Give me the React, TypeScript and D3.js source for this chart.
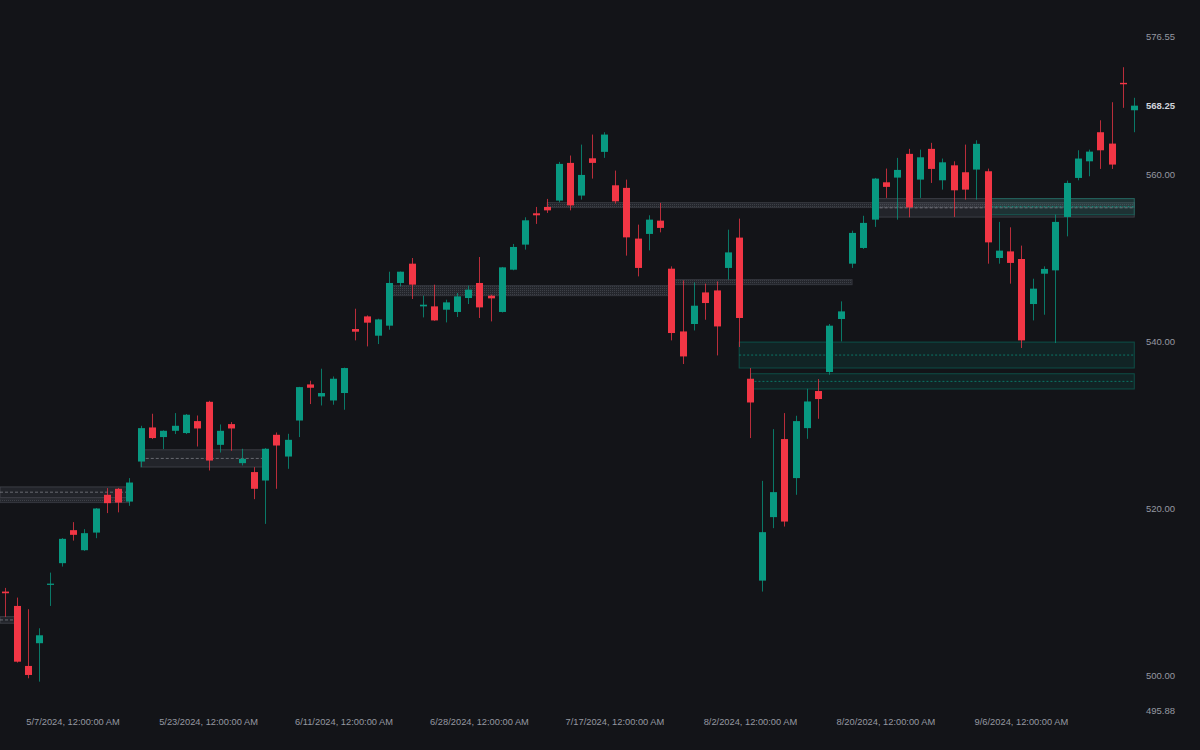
import React from "react";
import * as d3 from "d3";

const dates = [
  "2024-04-29","2024-04-30","2024-05-01","2024-05-02","2024-05-03","2024-05-06","2024-05-07","2024-05-08","2024-05-09","2024-05-10",
  "2024-05-13","2024-05-14","2024-05-15","2024-05-16","2024-05-17","2024-05-20","2024-05-21","2024-05-22","2024-05-23","2024-05-24",
  "2024-05-28","2024-05-29","2024-05-30","2024-05-31","2024-06-03","2024-06-04","2024-06-05","2024-06-06","2024-06-07","2024-06-10",
  "2024-06-11","2024-06-12","2024-06-13","2024-06-14","2024-06-17","2024-06-18","2024-06-20","2024-06-21","2024-06-24","2024-06-25",
  "2024-06-26","2024-06-27","2024-06-28","2024-07-01","2024-07-02","2024-07-03","2024-07-05","2024-07-08","2024-07-09","2024-07-10",
  "2024-07-11","2024-07-12","2024-07-15","2024-07-16","2024-07-17","2024-07-18","2024-07-19","2024-07-22","2024-07-23","2024-07-24",
  "2024-07-25","2024-07-26","2024-07-29","2024-07-30","2024-07-31","2024-08-01","2024-08-02","2024-08-05","2024-08-06","2024-08-07",
  "2024-08-08","2024-08-09","2024-08-12","2024-08-13","2024-08-14","2024-08-15","2024-08-16","2024-08-19","2024-08-20","2024-08-21",
  "2024-08-22","2024-08-23","2024-08-26","2024-08-27","2024-08-28","2024-08-29","2024-08-30","2024-09-03","2024-09-04","2024-09-05",
  "2024-09-06","2024-09-09","2024-09-10","2024-09-11","2024-09-12","2024-09-13","2024-09-16","2024-09-17","2024-09-18","2024-09-19",
  "2024-09-20",
];

const open = [
  510.1,508.38,501.2,503.92,510.9,513.5,517.45,515.05,517.16,521.68,
  522.4,520.87,525.66,529.74,528.59,529.34,529.07,530.5,532.81,527.66,
  530.14,525.47,524.4,523.39,528.86,526.26,530.57,534.89,533.45,532.97,
  533.86,541.52,543.03,540.72,541.92,547.03,549.34,544.23,544.23,543.83,
  543.56,545.23,547.03,545.51,543.56,548.62,551.62,555.37,556.13,556.89,
  561.4,557.49,561.95,562.72,558.72,558.41,552.34,552.9,554.49,548.74,
  541.23,542.12,545.9,546.14,548.83,552.46,535.57,511.41,519.01,528.35,
  523.68,529.66,534.1,536.37,542.72,549.34,551.22,554.61,559.08,559.64,
  562.48,559.4,563.08,559.32,561.11,560.28,560.6,560.4,550.02,550.81,
  549.9,544.51,548.14,548.54,554.93,559.6,561.59,565.07,563.71,570.98,
  567.7,
];
const high = [
  510.54,509.38,507.99,505.71,512.37,516.5,518.41,517.57,520.1,522.48,
  522.5,523.68,529.94,531.38,529.4,531.46,531.35,531.17,532.93,530.1,
  530.38,527.19,524.99,527.27,529.14,528.98,534.6,535.33,536.77,535.84,
  536.9,543.95,543.15,542.75,548.38,548.4,550.02,545.51,546.83,545.03,
  545.83,546.71,550.14,545.63,548.95,551.7,554.89,556.13,557.09,561.52,
  562.28,563.59,564.79,565.07,560.48,559.4,554.01,555.13,556.61,549.02,
  547.34,547.1,546.95,547.22,553.41,554.73,536.85,523.35,529.54,531.46,
  531.14,534.37,535.53,542.12,544.83,553.29,555.07,559.6,560.72,562.0,
  563.08,562.99,563.8,561.92,561.59,563.59,564.11,560.72,554.34,553.69,
  551.5,547.54,549.02,555.21,559.28,562.91,562.99,566.5,568.66,572.85,
  569.19,
];
const low = [
  507.07,501.6,499.72,499.32,508.38,513.09,516.2,514.97,516.49,519.49,
  519.58,520.36,524.99,528.35,527.15,528.95,528.95,527.46,524.59,526.74,
  526.95,525.19,521.16,518.2,522.4,524.79,528.59,532.54,532.37,532.46,
  531.86,540.16,539.44,539.72,541.44,546.62,545.11,542.91,542.5,542.31,
  542.96,544.51,542.84,542.43,543.5,548.55,551.02,554.1,555.41,556.68,
  555.72,557.01,559.52,562.0,556.53,550.3,547.82,550.93,553.09,540.16,
  537.33,541.35,542.63,538.36,547.43,539.37,528.47,510.1,517.69,517.88,
  521.68,528.38,530.78,536.05,540.04,548.83,551.1,553.74,557.21,554.61,
  554.89,557.21,559.0,558.2,554.93,557.01,557.01,549.34,549.34,546.95,
  539.25,542.55,543.23,539.84,552.61,559.32,559.8,560.68,560.68,567.99,
  565.07,
];
const close = [
  509.9,501.71,500.12,504.87,511.05,516.41,516.89,517.09,520.04,520.68,
  520.75,523.15,529.66,528.47,529.34,529.94,531.26,529.62,525.78,529.34,
  529.62,525.99,522.4,527.19,527.58,528.26,534.57,534.49,533.86,535.57,
  536.85,541.2,542.28,542.67,547.03,548.38,546.83,544.43,542.55,544.71,
  545.43,546.23,544.11,545.19,548.9,551.34,554.53,555.13,555.72,561.28,
  556.32,559.96,561.4,564.79,556.8,552.49,548.83,554.61,553.62,541.04,
  538.24,544.31,544.63,541.83,550.69,542.84,532.73,517.21,522.0,518.48,
  530.5,532.85,533.14,541.92,543.63,553.02,554.22,559.52,558.53,560.56,
  556.08,562.07,560.68,561.47,558.12,558.2,563.68,551.89,550.9,549.43,
  540.16,546.35,548.71,554.34,559.0,561.92,562.75,562.91,561.2,570.81,
  568.25,
];

// zones: [startIndex, endIndex, top, bottom]
const grayBoxes = [
  [-1, 1, 507.1, 506.31],
  [-1, 11, 522.63, 521.36],
  [12, 23, 527.07, 525.0],
  [77, 100, 557.13, 554.91],
];
const dottedStrips = [
  [-1, 11, 521.2, 520.75],
  [34, 59, 546.71, 545.51],
  [59, 75, 547.43, 546.83],
  [48, 100, 556.65, 556.05],
];
const greenBoxes = [
  [87, 100, 557.13, 555.2],
  [65, 100, 539.96, 536.85],
  [66, 100, 536.17, 534.34],
];

const yTickValues = [576.55, 560, 540, 520, 500, 495.88];
const lastPrice = 568.25;
const xTickEvery = 12;
const xTickStart = 6;

const W = 1200;
const H = 750;
const UP = "#089981";
const DOWN = "#f23645";
const BG = "#131418";

export default function App() {
  const idx = d3.range(dates.length);
  const x = d3.scaleLinear().domain([0, dates.length - 1]).range([5.3, 1134.3]);
  const y = d3.scaleLinear().domain([495.88, 576.55]).range([710.4, 36.3]);
  const step = x(1) - x(0);
  const bw = Math.round(step * 0.58);

  const fmt = (s: string) => {
    const [yy, mm, dd] = s.split("-").map(Number);
    return `${mm}/${dd}/${yy}, 12:00:00 AM`;
  };
  const xTicks = idx.filter((i) => i >= xTickStart && (i - xTickStart) % xTickEvery === 0);

  const zoneRect = (z: number[]) => {
    const x0 = Math.max(0, x(z[0]));
    const x1 = x(z[1]);
    const y0 = y(z[2]);
    const y1 = y(z[3]);
    return { x0, x1, y0, y1, ym: (y0 + y1) / 2 };
  };

  return (
    <svg
      width={W}
      height={H}
      style={{ position: "absolute", left: 0, top: 0, display: "block", background: BG }}
      fontFamily="'Liberation Sans', Arial, sans-serif"
    >
      <defs>
        <pattern id="dots" width="2" height="2" patternUnits="userSpaceOnUse">
          <rect width="2" height="2" fill="#24262c" />
          <rect width="1" height="1" fill="#3d4047" />
        </pattern>
      </defs>
      <rect x={0} y={0} width={W} height={H} fill={BG} />

      {dottedStrips.map((z, i) => {
        const r = zoneRect(z);
        return (
          <g key={"ds" + i}>
            <rect x={r.x0} y={r.y0} width={r.x1 - r.x0} height={r.y1 - r.y0} fill="url(#dots)" stroke="#34363d" strokeWidth={1} />
          </g>
        );
      })}

      {grayBoxes.map((z, i) => {
        const r = zoneRect(z);
        return (
          <g key={"gb" + i}>
            <rect x={r.x0} y={r.y0} width={r.x1 - r.x0} height={r.y1 - r.y0} fill="rgba(120,123,134,0.16)" stroke="rgba(120,123,134,0.35)" strokeWidth={1} />
            <line x1={r.x0} x2={r.x1} y1={r.ym} y2={r.ym} stroke="rgba(160,163,172,0.55)" strokeWidth={1} strokeDasharray="3,2" />
          </g>
        );
      })}

      {greenBoxes.map((z, i) => {
        const r = zoneRect(z);
        return (
          <g key={"grb" + i}>
            <rect x={r.x0} y={r.y0} width={r.x1 - r.x0} height={r.y1 - r.y0} fill="rgba(8,153,129,0.12)" stroke="rgba(8,153,129,0.4)" strokeWidth={1} />
            <line x1={r.x0} x2={r.x1} y1={r.ym} y2={r.ym} stroke="rgba(8,153,129,0.7)" strokeWidth={1} strokeDasharray="2,2" />
          </g>
        );
      })}

      {idx.map((i) => {
        const up = close[i] >= open[i];
        const c = up ? UP : DOWN;
        const cx = Math.round(x(i)) + 0.5;
        const top = y(Math.max(open[i], close[i]));
        const bot = y(Math.min(open[i], close[i]));
        const h = Math.max(1, bot - top);
        return (
          <g key={"c" + i}>
            <line x1={cx} x2={cx} y1={y(high[i])} y2={y(low[i])} stroke={c} strokeWidth={1} strokeOpacity={0.75} />
            <rect x={cx - bw / 2} y={top} width={bw} height={h} fill={c} />
          </g>
        );
      })}

      {yTickValues.map((v) => (
        <text key={"y" + v} x={1146} y={y(v)} dy="0.35em" fontSize={9.5} fill="#9598a1">
          {v.toFixed(2)}
        </text>
      ))}
      <text x={1146} y={y(lastPrice)} dy="0.35em" fontSize={9.5} fontWeight="bold" fill="#d1d4dc">
        {lastPrice.toFixed(2)}
      </text>

      {xTicks.map((i) => (
        <text key={"x" + i} x={x(i)} y={722} dy="0.35em" textAnchor="middle" fontSize={9.3} fill="#9598a1">
          {fmt(dates[i])}
        </text>
      ))}
    </svg>
  );
}
